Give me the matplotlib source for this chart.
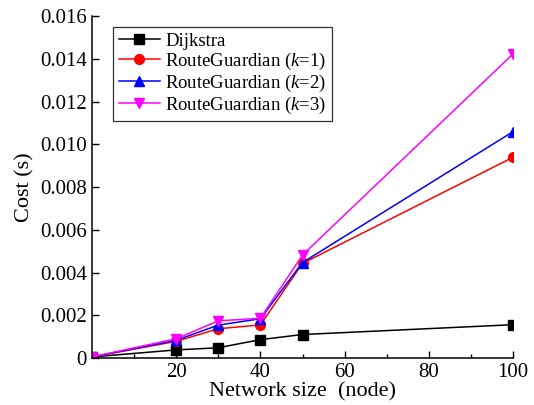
import matplotlib.pyplot as plt
from matplotlib.ticker import FixedLocator

plt.rcParams['font.family'] = ['Liberation Serif', 'DejaVu Serif']
plt.rcParams['mathtext.fontset'] = 'custom'
plt.rcParams['mathtext.it'] = 'Liberation Serif:italic'
plt.rcParams['mathtext.rm'] = 'Liberation Serif'

# Data
network_size = [0, 20, 30, 40, 50, 100]
dijkstra = [0.00005, 0.00038, 0.00048, 0.00086, 0.00110, 0.00156]
rg_k1 = [0.00005, 0.00078, 0.00137, 0.00155, 0.00443, 0.00940]
rg_k2 = [0.00005, 0.00083, 0.00154, 0.00184, 0.00447, 0.01060]
rg_k3 = [0.00005, 0.00090, 0.00174, 0.00186, 0.00482, 0.01424]

y_ticks = [0, 0.002, 0.004, 0.006, 0.008, 0.010, 0.012, 0.014, 0.016]
y_tick_labels = ["0", "0.002", "0.004", "0.006", "0.008", "0.010", "0.012", "0.014", "0.016"]
x_ticks = [20, 40, 60, 80, 100]

series = [
    ("Dijkstra", dijkstra, "black", "s"),
    ("RouteGuardian ($k$=1)", rg_k1, "red", "o"),
    ("RouteGuardian ($k$=2)", rg_k2, "blue", "^"),
    ("RouteGuardian ($k$=3)", rg_k3, "magenta", "v"),
]

fig = plt.figure(figsize=(5.34, 4.05), dpi=100)
ax = fig.add_axes([0.172, 0.116, 0.789, 0.844])

for label, vals, col, mk in series:
    ax.plot(network_size, vals, color=col, marker=mk, markersize=7, linewidth=1.1, label=label)

ax.set_xlim(0, 100)
ax.set_ylim(0, 0.016)
ax.xaxis.set_major_locator(FixedLocator(x_ticks))
ax.xaxis.set_minor_locator(FixedLocator([10, 30, 50, 70, 90]))
ax.set_yticks(y_ticks)
ax.set_yticklabels(y_tick_labels)

ax.spines['top'].set_visible(False)
ax.spines['right'].set_visible(False)
ax.tick_params(direction='in', labelsize=15, length=5, width=1)
ax.tick_params(which='minor', direction='in', length=3, width=1)
for sp in ax.spines.values():
    sp.set_linewidth(1.1)

ax.set_xlabel("Network size  (node)", fontsize=16, labelpad=0)
ax.set_ylabel("Cost (s)", fontsize=16, labelpad=4)

leg = ax.legend(loc='upper left', bbox_to_anchor=(0.05, 0.969), fontsize=13.5, frameon=True,
                fancybox=False, edgecolor='black', handlelength=2.2, handletextpad=0.3,
                labelspacing=0.05, borderpad=0.3, borderaxespad=0)
leg.get_frame().set_linewidth(0.9)

fig.savefig("out.png", dpi=100)
